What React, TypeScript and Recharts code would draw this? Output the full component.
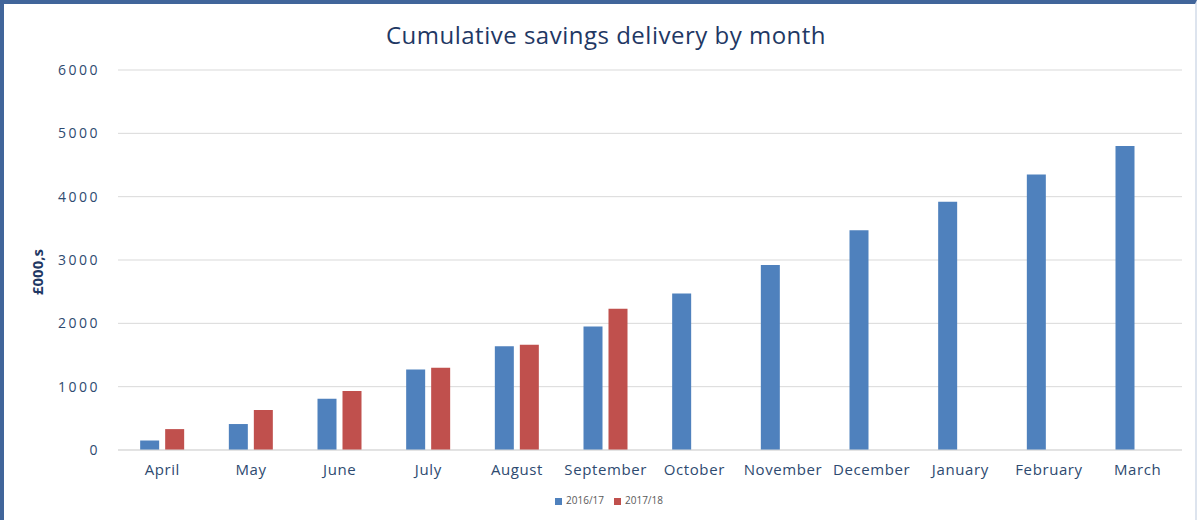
import React from "react";
import { BarChart, Bar, XAxis, YAxis, CartesianGrid, Legend } from "recharts";

const months = ["April", "May", "June", "July", "August", "September", "October", "November", "December", "January", "February", "March"];
const series1617 = [150, 410, 810, 1270, 1640, 1950, 2470, 2920, 3470, 3920, 4350, 4800];
const series1718: (number | null)[] = [330, 630, 930, 1300, 1660, 2230, null, null, null, null, null, null];
const yTicks = [0, 1000, 2000, 3000, 4000, 5000, 6000];

const data = months.map((m, i) => ({ month: m, a: series1617[i], b: series1718[i] }));

const FONT = "'Open Sans', 'Liberation Sans', sans-serif";
const TEXT = "#2E4A70";

export default function App() {
  return (
    <div style={{ position: "absolute", left: 0, top: 0, width: 1200, height: 520, background: "#fff", fontFamily: FONT }}>
      <div style={{ position: "absolute", left: 0, top: 0, width: 1197, height: 520, borderLeft: "4px solid #41659A", borderTop: "4px solid #41659A", borderRight: "2px solid #DDE4EE", boxSizing: "border-box" }} />
      <div style={{ position: "absolute", left: 0, top: 18, width: 1212, textAlign: "center", fontSize: 24, letterSpacing: 0.5, color: "#1F3864", fontFamily: FONT }}>
        Cumulative savings delivery by month
      </div>
      <div style={{ position: "absolute", left: 0, top: 0 }}>
        <BarChart width={1200} height={520} data={data} margin={{ top: 70, right: 18, left: 0, bottom: 26 }} barCategoryGap="25%" barGap={6}>
          <CartesianGrid vertical={false} stroke="#D9D9D9" />
          <XAxis dataKey="month" axisLine={{ stroke: "#D9D9D9" }} tickLine={false} tick={{ fill: TEXT, fontSize: 15, fontFamily: FONT, letterSpacing: 0.6 }} tickMargin={8} height={30} interval={0} />
          <YAxis domain={[0, 6000]} ticks={yTicks} axisLine={false} tickLine={false} tickSize={0} tickMargin={18} width={118} tick={{ fill: TEXT, fontSize: 14, fontFamily: FONT, letterSpacing: 2.5 }}
            label={{ value: "£000,s", angle: -90, position: "insideLeft", offset: 38, dy: 12, style: { fill: "#1F3864", fontSize: 15, fontWeight: "bold", fontFamily: FONT, textAnchor: "middle" } }} />
          <Legend verticalAlign="bottom" iconType="square" iconSize={7}
            formatter={(v: string) => <span style={{ color: "#595959" }}>{v}</span>}
            wrapperStyle={{ fontSize: 10, fontFamily: FONT, left: 23, bottom: 13 }} />
          <Bar dataKey="a" name="2016/17" fill="#4F81BD" isAnimationActive={false} />
          <Bar dataKey="b" name="2017/18" fill="#C0504D" isAnimationActive={false} />
        </BarChart>
      </div>
    </div>
  );
}
